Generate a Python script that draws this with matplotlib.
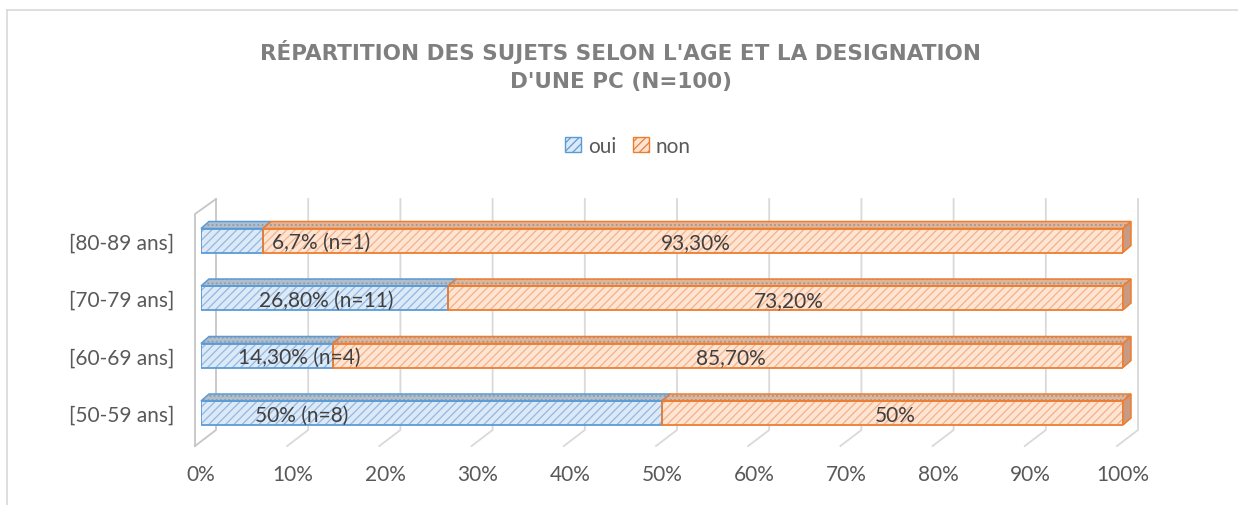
import matplotlib
matplotlib.use("Agg")
import matplotlib.pyplot as plt
from matplotlib.patches import Polygon, Patch
from matplotlib.lines import Line2D

# ---------------- data ----------------
categories = ["[50-59 ans]", "[60-69 ans]", "[70-79 ans]", "[80-89 ans]"]
oui = [50.0, 14.3, 26.8, 6.7]
non = [50.0, 85.7, 73.2, 93.3]
oui_labels = ["50% (n=8)", "14,30% (n=4)", "26,80% (n=11)", "6,7% (n=1)"]
non_labels = ["50%", "85,70%", "73,20%", "93,30%"]
series_names = ["oui", "non"]
x_ticks = [0, 10, 20, 30, 40, 50, 60, 70, 80, 90, 100]
x_tick_labels = ["0%", "10%", "20%", "30%", "40%", "50%", "60%", "70%", "80%", "90%", "100%"]
title = "RÉPARTITION DES SUJETS SELON L'AGE ET LA DESIGNATION\nD'UNE PC (N=100)"

# manual label placement of the "oui" labels in the source chart (percent axis)
oui_label_x = [10.9, 10.7, 13.6, 13.0]

# ---------------- style ----------------
W, H = 1238, 506
BLUE_FACE, BLUE_STRIPE, BLUE_EDGE, BLUE_TOP = "#dce9f7", "#93b8e1", "#5b9bd5", "#aebfd2"
OR_FACE, OR_STRIPE, OR_EDGE, OR_TOP, OR_SIDE = "#fde4d3", "#f6b085", "#ed7d31", "#e3b597", "#c89a82"
GRID, WALL = "#d9d9d9", "#c6c6c6"
LABEL_FONT = ["Lato", "DejaVu Sans"]

plt.rcParams["hatch.linewidth"] = 0.9

fig = plt.figure(figsize=(W / 100, H / 100), dpi=100)
fig.patch.set_facecolor("white")

# outer chart frame (cropped at right / bottom in the reference)
x0f, ytf = 6.5 / W, 1 - 11 / H
fig.add_artist(Line2D([x0f, x0f], [0, ytf], color=GRID, lw=1.2))
fig.add_artist(Line2D([x0f, 1], [ytf, ytf], color=GRID, lw=1.2))

ax = fig.add_axes([201 / W, (H - 447) / H, 922 / W, 247 / H])
PX_PER_Y = 57.5
Y0_PX = 414.0


def ypx(p):
    return (Y0_PX - p) / PX_PER_Y


dx = 100.0 / 922.0  # data units per pixel (x)
dy = 1.0 / PX_PER_Y  # data units per pixel (y)
ax.set_xlim(0, 100)
ax.set_ylim(ypx(447), ypx(200))
for s in ax.spines.values():
    s.set_visible(False)
ax.set_facecolor("none")

# gridlines on the back wall + floor diagonals
for t in x_ticks:
    col = WALL if t == 0 else GRID
    ax.plot([t - 6 * dx, t + 15 * dx, t + 15 * dx], [ypx(447), ypx(431), ypx(200)],
            color=col, lw=1.3, clip_on=False, zorder=0)
# left side wall
ax.plot([-6 * dx, -6 * dx, 15 * dx], [ypx(447), ypx(215), ypx(200)],
        color=WALL, lw=1.3, clip_on=False, zorder=0)

# bars
ys = list(range(len(categories)))
h = 24 * dy
bx, by = 8 * dx, 7 * dy

ax.barh(ys, oui, height=h, color=BLUE_FACE, edgecolor=BLUE_STRIPE, hatch="////", lw=0, zorder=3)
ax.barh(ys, oui, height=h, fill=False, edgecolor=BLUE_EDGE, lw=1.3, zorder=4)
ax.barh(ys, non, left=oui, height=h, color=OR_FACE, edgecolor=OR_STRIPE, hatch="////", lw=0, zorder=3)
ax.barh(ys, non, left=oui, height=h, fill=False, edgecolor=OR_EDGE, lw=1.3, zorder=4)

for i, y in enumerate(ys):
    yt, yb = y + h / 2, y - h / 2
    segs = [(0, oui[i], BLUE_TOP, BLUE_EDGE), (oui[i], oui[i] + non[i], OR_TOP, OR_EDGE)]
    for l, r, fc, ec in segs:
        ax.add_patch(Polygon([(l, yt), (l + bx, yt + by), (r + bx, yt + by), (r, yt)],
                             closed=True, facecolor=fc, edgecolor="#9a9a9a", hatch="....",
                             lw=0, zorder=2, clip_on=False))
        ax.add_patch(Polygon([(l, yt), (l + bx, yt + by), (r + bx, yt + by), (r, yt)],
                             closed=True, fill=False, edgecolor=ec, lw=1.1, zorder=4, clip_on=False))
    end = oui[i] + non[i]
    ax.add_patch(Polygon([(end, yt), (end + bx, yt + by), (end + bx, yb + by), (end, yb)],
                         closed=True, facecolor=OR_SIDE, edgecolor=OR_EDGE, lw=1.1, zorder=4,
                         clip_on=False))

# data labels
for i, y in enumerate(ys):
    ax.text(oui_label_x[i], y - 0.03, oui_labels[i], ha="center", va="center",
            fontsize=15, color="#404040", family=LABEL_FONT, zorder=6)
    ax.text(oui[i] + non[i] / 2 + 0.3, y - 0.03, non_labels[i], ha="center", va="center",
            fontsize=15, color="#404040", family=LABEL_FONT, zorder=6)

# axes ticks
ax.set_yticks(ys)
ax.set_yticklabels(categories, family=LABEL_FONT, fontsize=15, color="#595959")
ax.set_xticks(x_ticks)
ax.set_xticklabels(x_tick_labels, family=LABEL_FONT, fontsize=15, color="#595959")
ax.tick_params(axis="y", length=0, pad=19)
ax.tick_params(axis="x", length=0, pad=13)

# title
fig.text(621 / W, 1 - 66 / H, title, ha="center", va="center", fontsize=15.5,
         fontweight="bold", color="#7f7f7f", family=["DejaVu Sans"],
         linespacing=1.45)

# legend
handles = [Patch(facecolor=BLUE_FACE, edgecolor=BLUE_EDGE, hatch="////", lw=1.0),
           Patch(facecolor=OR_FACE, edgecolor=OR_EDGE, hatch="////", lw=1.0)]
fig.legend(handles, series_names, loc="center", bbox_to_anchor=(628 / W, 1 - 147 / H),
           ncol=2, frameon=False, handlelength=0.75, handleheight=0.75, handletextpad=0.35,
           columnspacing=0.8, prop={"family": LABEL_FONT, "size": 15}, labelcolor="#595959")

fig.savefig("out.png", dpi=100)
